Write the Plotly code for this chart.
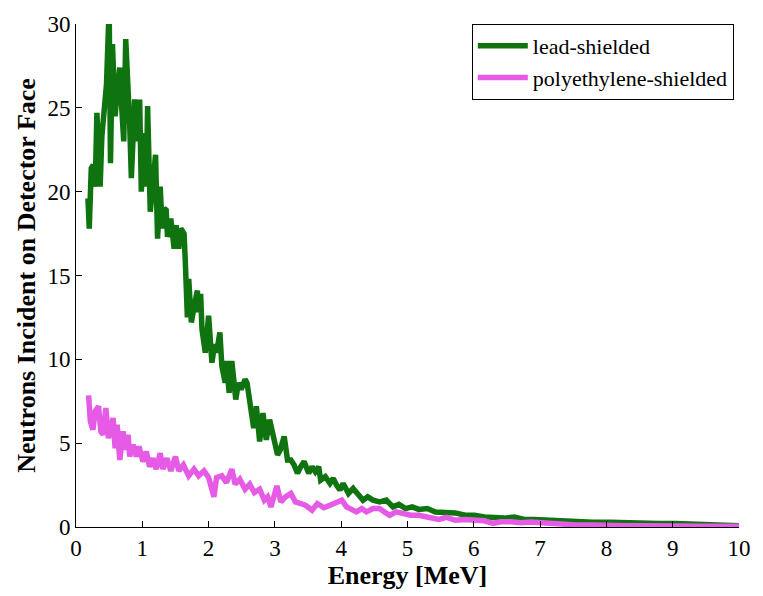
import plotly.graph_objects as go

# lead-shielded spectrum (Energy MeV, neutrons)
lead_x = [0.18, 0.20, 0.23, 0.26, 0.29, 0.315, 0.34, 0.364, 0.39, 0.43, 0.46, 0.50, 0.52, 0.55, 0.59, 0.61,
          0.66, 0.69, 0.72, 0.75, 0.785, 0.81, 0.835, 0.885, 0.93, 0.96, 0.985, 1.03, 1.06, 1.08, 1.12, 1.16,
          1.20, 1.23, 1.27, 1.30, 1.33, 1.36, 1.38, 1.43, 1.48, 1.51, 1.55, 1.58, 1.63, 1.65, 1.68, 1.70,
          1.74, 1.78, 1.83, 1.85, 1.88, 1.90, 1.95, 2.00, 2.05, 2.09, 2.12, 2.17, 2.20, 2.25, 2.27, 2.31,
          2.35, 2.41, 2.45, 2.49, 2.55, 2.58, 2.62, 2.63, 2.68, 2.72, 2.77, 2.82, 2.87, 2.92, 2.97, 3.04,
          3.08, 3.14, 3.19, 3.24, 3.29, 3.34, 3.39, 3.44, 3.51, 3.56, 3.61, 3.66, 3.69, 3.76, 3.83, 3.88,
          3.93, 3.98, 4.03, 4.11, 4.18, 4.26, 4.33, 4.40, 4.48, 4.58, 4.68, 4.78, 4.87, 4.97, 5.07, 5.17,
          5.30, 5.42, 5.57, 5.72, 5.87, 6.01, 6.16, 6.31, 6.46, 6.61, 6.76, 6.91, 7.05, 7.30, 7.55, 7.80,
          8.05, 8.29, 8.54, 8.79, 9.04, 9.29, 9.54, 9.79, 10.0]
lead_y = [19.6, 17.8, 21.4, 21.6, 20.3, 24.7, 22.5, 20.3, 23.3, 25.1, 26.4, 31.0, 21.7, 28.8, 24.5, 25.5,
          27.4, 25.0, 23.0, 29.1, 26.4, 24.0, 20.8, 25.5, 23.0, 25.5, 20.0, 23.5, 20.3, 25.1, 18.8, 21.0,
          22.2, 17.2, 20.3, 17.8, 19.0, 18.9, 17.3, 18.4, 16.6, 18.0, 16.6, 17.8, 17.5, 15.7, 12.5, 14.8,
          12.2, 13.1, 14.1, 12.8, 13.9, 11.8, 10.4, 12.6, 9.8, 10.9, 10.4, 11.6, 9.6, 8.6, 9.9, 8.0,
          9.9, 7.6, 8.6, 8.2, 8.8, 8.6, 7.5, 7.1, 5.9, 7.2, 5.1, 6.8, 5.2, 6.4, 5.5, 4.3,
          4.6, 5.4, 4.0, 4.0, 3.7, 3.2, 3.6, 3.9, 3.2, 3.6, 3.3, 3.6, 2.8, 3.0, 2.6, 2.9,
          2.5, 2.2, 2.6, 2.0, 2.3, 1.9, 1.6, 1.8, 1.6, 1.5, 1.6, 1.2, 1.35, 1.1, 1.2, 1.05,
          1.1, 0.9, 0.9, 0.84, 0.7, 0.7, 0.6, 0.57, 0.53, 0.6, 0.45, 0.45, 0.42, 0.37, 0.33, 0.29,
          0.29, 0.25, 0.2, 0.21, 0.21, 0.17, 0.12, 0.1, 0.08]

# polyethylene-shielded spectrum
poly_x = [0.19, 0.216, 0.255, 0.29, 0.34, 0.375, 0.41, 0.45, 0.49, 0.53, 0.56, 0.59, 0.62, 0.66, 0.71, 0.75,
          0.785, 0.81, 0.86, 0.91, 0.95, 1.01, 1.06, 1.11, 1.16, 1.21, 1.27, 1.31, 1.37, 1.43, 1.50, 1.55,
          1.62, 1.70, 1.78, 1.85, 1.93, 2.00, 2.08, 2.12, 2.20, 2.27, 2.35, 2.40, 2.47, 2.55, 2.62, 2.69,
          2.77, 2.84, 2.89, 2.94, 3.03, 3.09, 3.16, 3.24, 3.31, 3.39, 3.46, 3.56, 3.64, 3.74, 3.83, 3.93,
          4.01, 4.08, 4.16, 4.23, 4.31, 4.38, 4.48, 4.58, 4.65, 4.73, 4.83, 4.93, 5.05, 5.17, 5.32, 5.47,
          5.59, 5.72, 5.87, 6.01, 6.16, 6.29, 6.41, 6.56, 6.71, 6.86, 7.03, 7.30, 7.55, 7.80, 8.05, 8.29,
          8.54, 8.79, 9.04, 9.29, 9.54, 9.79, 10.0]
poly_y = [7.85, 6.3, 5.8, 6.9, 7.2, 5.7, 5.5, 7.1, 5.3, 6.0, 6.5, 4.7, 6.1, 4.0, 5.7, 4.6,
          5.5, 4.2, 4.9, 4.2, 4.8, 3.9, 4.5, 3.6, 4.1, 3.45, 4.4, 3.45, 4.1, 3.35, 4.2, 3.35,
          3.7, 3.05, 3.45, 3.05, 3.35, 2.95, 1.8, 2.95, 3.05, 2.65, 3.45, 2.55, 2.85, 2.25, 2.55, 2.05,
          2.25, 1.6, 1.8, 1.2, 2.45, 1.5, 1.8, 2.0, 1.5, 1.4, 1.3, 1.0, 1.4, 1.15, 1.3, 1.4,
          1.6, 1.2, 1.0, 0.9, 1.1, 0.9, 1.1, 1.1, 0.9, 0.7, 0.9, 0.8, 0.7, 0.7, 0.6, 0.45,
          0.57, 0.4, 0.45, 0.4, 0.37, 0.22, 0.31, 0.31, 0.26, 0.3, 0.25, 0.12, 0.12, 0.12, 0.06, 0.08,
          0.08, 0.05, 0.07, 0.05, 0.04, 0.04, 0.04]

x_ticks = list(range(0, 11))
y_ticks = [0, 5, 10, 15, 20, 25, 30]

GREEN = "#0f730f"
PINK = "#e65be6"
FONT = "Liberation Serif"

fig = go.Figure()
fig.add_trace(go.Scatter(x=lead_x, y=lead_y, mode="lines", name="lead-shielded",
                         line=dict(color=GREEN, width=5.5)))
fig.add_trace(go.Scatter(x=poly_x, y=poly_y, mode="lines", name="polyethylene-shielded",
                         line=dict(color=PINK, width=5.5)))

fig.update_layout(
    width=763, height=596,
    margin=dict(l=76, r=15, t=16, b=69),
    paper_bgcolor="white", plot_bgcolor="white",
    font=dict(family=FONT, size=23, color="black"),
    showlegend=True,
    legend=dict(x=0.597, y=1.0, xanchor="left", yanchor="top",
                bgcolor="white", bordercolor="black", borderwidth=1,
                font=dict(family=FONT, size=22, color="black"),
                tracegroupgap=0, itemwidth=50),
    xaxis=dict(range=[0, 10], tickvals=x_ticks, ticks="inside", ticklen=6, tickcolor="black",
               showline=True, linecolor="black", linewidth=1, showgrid=False, zeroline=False,
               tickfont=dict(family=FONT, size=23, color="black"),
               title=dict(text="<b>Energy [MeV]</b>", font=dict(family=FONT, size=26, color="black"),
                          standoff=4)),
    yaxis=dict(range=[0, 30], tickvals=y_ticks, ticks="inside", ticklen=6, tickcolor="black",
               showline=True, linecolor="black", linewidth=1, showgrid=False, zeroline=False,
               tickfont=dict(family=FONT, size=23, color="black"),
               title=dict(text="<b>Neutrons Incident on Detector Face</b>",
                          font=dict(family=FONT, size=26, color="black"), standoff=4)),
)

fig.write_html("out.html")
